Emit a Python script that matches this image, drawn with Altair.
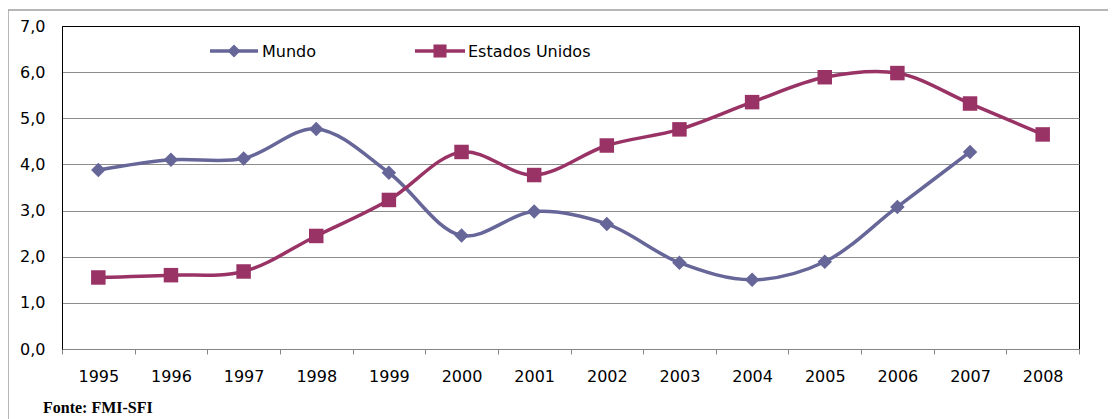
import altair as alt
import pandas as pd

years = ["1995", "1996", "1997", "1998", "1999", "2000", "2001", "2002",
         "2003", "2004", "2005", "2006", "2007", "2008"]
mundo = [3.88, 4.10, 4.13, 4.77, 3.82, 2.46, 2.98, 2.71, 1.87, 1.50, 1.89, 3.08, 4.27, None]
eua = [1.55, 1.60, 1.68, 2.45, 3.23, 4.27, 3.77, 4.41, 4.76, 5.35, 5.89, 5.98, 5.32, 4.65]
series = ["Mundo", "Estados Unidos"]
colors = ["#666699", "#993366"]
shapes = ["diamond", "square"]
source_note = "Fonte:  FMI-SFI"

rows = []
for s, vals in zip(series, [mundo, eua]):
    for y, v in zip(years, vals):
        if v is not None:
            rows.append({"ano": y, "serie": s, "valor": v})
df = pd.DataFrame(rows)

FONT = "DejaVu Sans"

x_enc = alt.X("ano:N", sort=years, title=None,
              scale=alt.Scale(paddingInner=0, paddingOuter=0),
              axis=alt.Axis(labelAngle=0, labelFont=FONT, labelFontSize=16,
                            labelColor="black", labelPadding=14, tickBand="extent",
                            tickSize=5, tickColor="#868686", domainColor="#868686",
                            grid=False))
y_enc = alt.Y("valor:Q", title=None,
              scale=alt.Scale(domain=[0, 7], nice=False, zero=True),
              axis=alt.Axis(values=[0, 1, 2, 3, 4, 5, 6, 7], ticks=False,
                            labelExpr="replace(format(datum.value, '.1f'), '.', ',')",
                            labelFont=FONT, labelFontSize=16, labelColor="black",
                            labelPadding=17, domainColor="black",
                            gridColor={"condition": {"test": "datum.value == 7", "value": "black"},
                                       "value": "#8c8c8c"},
                            gridWidth=1))
color_enc = alt.Color("serie:N", scale=alt.Scale(domain=series, range=colors), legend=None)
shape_enc = alt.Shape("serie:N", scale=alt.Scale(domain=series, range=shapes), legend=None)

base = alt.Chart(df)
lines = base.mark_line(interpolate="catmull-rom", strokeWidth=3.5).encode(
    x=x_enc, y=y_enc, color=color_enc, detail="serie:N")
points = base.mark_point(filled=True, opacity=1, size=210).encode(
    x="ano:N", y="valor:Q", color=color_enc, shape=shape_enc)

layers = [lines, points]

# manual legend
leg_pos = [(148, 196, 172, 200), (353, 403, 378, 406)]
for s, c, sh, (x1, x2, xm, xt) in zip(series, colors, shapes, leg_pos):
    d = alt.Data(values=[{"serie": s}])
    layers.append(alt.Chart(d).mark_rule(color=c, strokeWidth=3.5).encode(
        x=alt.value(x1), x2=alt.value(x2), y=alt.value(25)))
    layers.append(alt.Chart(d).mark_point(filled=True, opacity=1, color=c, shape=sh, size=170).encode(
        x=alt.value(xm), y=alt.value(25)))
    layers.append(alt.Chart(d).mark_text(align="left", baseline="middle", font=FONT,
                                         fontSize=16, color="black").encode(
        x=alt.value(xt), y=alt.value(26), text="serie:N"))

# outer frame and source note
layers.append(alt.Chart(alt.Data(values=[{"t": source_note}])).mark_rect(
    fill=None, stroke="#a0a0a0", strokeWidth=1.5, clip=False).encode(
    x=alt.value(-54), y=alt.value(-16), x2=alt.value(1100), y2=alt.value(430)))
layers.append(alt.Chart(alt.Data(values=[{"t": source_note}])).mark_text(
    align="left", baseline="middle", font="Liberation Serif", fontWeight="bold",
    fontSize=16, color="black").encode(
    x=alt.value(-19), y=alt.value(382), text="t:N"))

chart = alt.layer(*layers).properties(
    width=1017, height=323,
    autosize=alt.AutoSizeParams(type="none"),
    padding={"left": 54, "top": 18, "right": 29, "bottom": 78},
    background="white",
).configure_view(stroke="black", strokeWidth=1)

chart.save("out.html", embed_options={"renderer": "svg", "actions": False})
